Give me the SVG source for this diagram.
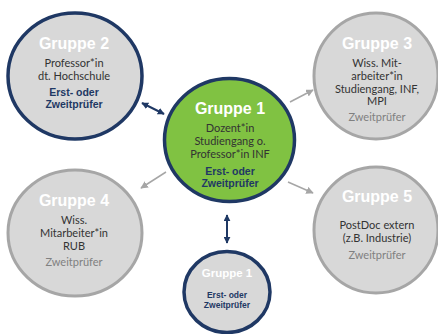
<svg xmlns="http://www.w3.org/2000/svg" width="438" height="334" viewBox="0 0 438 334">
<style>
.gray{fill:#d8d8d8;stroke:#a6a6a6;stroke-width:3}
.navy{fill:#d8d8d8;stroke:#1f3864;stroke-width:3.5}
.green{fill:#80c242;stroke:#1f3864;stroke-width:3.5}
.title{font-family:"Liberation Sans",Arial,sans-serif;font-weight:bold;font-size:16px;fill:#ffffff;text-anchor:middle}
.body{font-family:Lato,"Open Sans",sans-serif;font-size:11px;fill:#333333;text-anchor:middle}
.role{font-family:"Liberation Sans",Arial,sans-serif;font-weight:bold;font-size:10.5px;fill:#1f3864;text-anchor:middle}
.role2{font-family:Lato,"Open Sans",sans-serif;font-size:11px;fill:#808080;text-anchor:middle}
.ga{stroke:#a6a6a6;stroke-width:1.5;fill:none;marker-end:url(#gh)}
.na{stroke:#1f3864;stroke-width:2;fill:none;marker-start:url(#nh);marker-end:url(#nh)}
</style>
<defs>
<marker id="gh" viewBox="0 0 10 10" refX="9" refY="5" markerWidth="5" markerHeight="5" orient="auto-start-reverse" markerUnits="strokeWidth"><path d="M0,0 L10,5 L0,10 z" fill="#a6a6a6"/></marker>
<marker id="nh" viewBox="0 0 10 10" refX="9" refY="5" markerWidth="3.5" markerHeight="3.5" orient="auto-start-reverse" markerUnits="strokeWidth"><path d="M0,0 L10,5 L0,10 z" fill="#1f3864"/></marker>
</defs>
<rect width="438" height="334" fill="#ffffff"/>
<g id="connectors">
<line class="na" x1="142" y1="103" x2="164" y2="114"/>
<line class="na" x1="227" y1="215" x2="227" y2="243"/>
<line class="ga" x1="290" y1="102" x2="313" y2="90"/>
<line class="ga" x1="166" y1="172" x2="141" y2="188"/>
<line class="ga" x1="288" y1="182" x2="313" y2="193"/>
</g>
<g id="gruppe2">
<ellipse class="navy" cx="75" cy="76" rx="67" ry="63"/>
<text class="title" x="74" y="49">Gruppe 2</text>
<text class="body" x="74" y="67">Professor*in</text>
<text class="body" x="74" y="79.5">dt. Hochschule</text>
<text class="role" x="74" y="96">Erst- oder</text>
<text class="role" x="74" y="108">Zweitprüfer</text>
</g>
<g id="gruppe3">
<ellipse class="gray" cx="376" cy="76" rx="62" ry="63"/>
<text class="title" x="377" y="49">Gruppe 3</text>
<text class="body" x="377" y="67">Wiss. Mit-</text>
<text class="body" x="377" y="80">arbeiter*in</text>
<text class="body" x="377" y="93">Studiengang, INF,</text>
<text class="body" x="377" y="105">MPI</text>
<text class="role2" x="377" y="121">Zweitprüfer</text>
</g>
<g id="gruppe1">
<ellipse class="green" cx="229.5" cy="140" rx="65" ry="61.5"/>
<text class="title" x="230" y="114">Gruppe 1</text>
<text class="body" x="230" y="132">Dozent*in</text>
<text class="body" x="230" y="145">Studiengang o.</text>
<text class="body" x="230" y="157.5">Professor*in INF</text>
<text class="role" x="230" y="175">Erst- oder</text>
<text class="role" x="230" y="187">Zweitprüfer</text>
</g>
<g id="gruppe4">
<ellipse class="gray" cx="75" cy="233" rx="67" ry="63"/>
<text class="title" x="74" y="206">Gruppe 4</text>
<text class="body" x="74" y="224">Wiss.</text>
<text class="body" x="74" y="237">Mitarbeiter*in</text>
<text class="body" x="74" y="249.5">RUB</text>
<text class="role2" x="74" y="266">Zweitprüfer</text>
</g>
<g id="gruppe5">
<ellipse class="gray" cx="376" cy="230" rx="62" ry="63"/>
<text class="title" x="377" y="202">Gruppe 5</text>
<text class="body" x="377" y="229">PostDoc extern</text>
<text class="body" x="377" y="242">(z.B. Industrie)</text>
<text class="role2" x="377" y="259">Zweitprüfer</text>
</g>
<g id="gruppe1b">
<ellipse class="navy" cx="227" cy="292" rx="43" ry="40.5"/>
<text class="title" x="227" y="277" style="font-size:11.5px">Gruppe 1</text>
<text class="role" x="227" y="298" style="font-size:8.5px">Erst- oder</text>
<text class="role" x="227" y="308" style="font-size:8.5px">Zweitprüfer</text>
</g>
</svg>
